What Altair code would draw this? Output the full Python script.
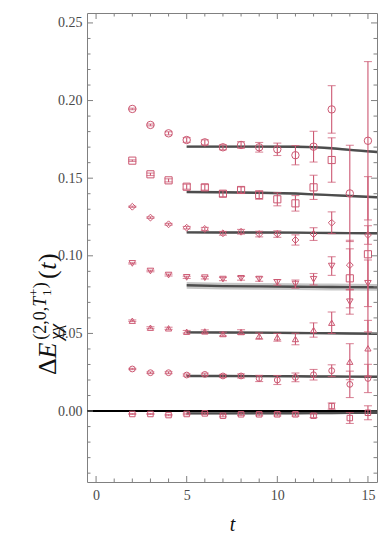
import altair as alt
import pandas as pd

# ---------------- data ----------------
T = [2, 3, 4, 5, 6, 7, 8, 9, 10, 11, 12, 13, 14, 15]

L0_VAL = [-0.0019, -0.0019, -0.0026, -0.0019, -0.0015, -0.0030, -0.0021, -0.0021, -0.0021, -0.0021, -0.0030, 0.0032, -0.0045, -0.0011]
L0_ERR = [0.0003, 0.0003, 0.0004, 0.0005, 0.0006, 0.0007, 0.0008, 0.0009, 0.0010, 0.0011, 0.0012, 0.0020, 0.0035, 0.0045]
L1_VAL = [0.0271, 0.0247, 0.0247, 0.0232, 0.0236, 0.0226, 0.0226, 0.0210, 0.0200, 0.0217, 0.0234, 0.0260, 0.0172, 0.0210]
L1_ERR = [0.0004, 0.0005, 0.0006, 0.0007, 0.0008, 0.0010, 0.0013, 0.0020, 0.0029, 0.0028, 0.0034, 0.0038, 0.0085, 0.0091]
L2_VAL = [0.0582, 0.0537, 0.0533, 0.0511, 0.0513, 0.0496, 0.0509, 0.0483, 0.0475, 0.0464, 0.0522, 0.0569, 0.0318, 0.0404]
L2_ERR = [0.0005, 0.0006, 0.0007, 0.0008, 0.0010, 0.0012, 0.0015, 0.0020, 0.0025, 0.0037, 0.0046, 0.0069, 0.0116, 0.0180]
L3_VAL = [0.0951, 0.0902, 0.0876, 0.0861, 0.0859, 0.0850, 0.0855, 0.0850, 0.0829, 0.0818, 0.0849, 0.0934, 0.0704, 0.0823]
L3_ERR = [0.0004, 0.0005, 0.0006, 0.0007, 0.0008, 0.0010, 0.0012, 0.0014, 0.0018, 0.0026, 0.0037, 0.0060, 0.0080, 0.0150]
L4_VAL = [0.1316, 0.1246, 0.1203, 0.1181, 0.1173, 0.1145, 0.1155, 0.1140, 0.1140, 0.1102, 0.1140, 0.1213, 0.0940, 0.1134]
L4_ERR = [0.0004, 0.0005, 0.0006, 0.0008, 0.0010, 0.0012, 0.0015, 0.0018, 0.0021, 0.0033, 0.0041, 0.0070, 0.0160, 0.0060]
L5_VAL = [0.1613, 0.1525, 0.1486, 0.1445, 0.1441, 0.1400, 0.1424, 0.1392, 0.1364, 0.1338, 0.1441, 0.1617, 0.0855, 0.1010]
L5_ERR = [0.0005, 0.0008, 0.0010, 0.0016, 0.0018, 0.0019, 0.0019, 0.0028, 0.0042, 0.0050, 0.0078, 0.0143, 0.0190, 0.0500]
L6_VAL = [0.1946, 0.1843, 0.1789, 0.1746, 0.1731, 0.1699, 0.1714, 0.1699, 0.1686, 0.1648, 0.1703, 0.1943, 0.1402, 0.1741]
L6_ERR = [0.0005, 0.0006, 0.0010, 0.0015, 0.0016, 0.0016, 0.0021, 0.0031, 0.0040, 0.0062, 0.0099, 0.0153, 0.0310, 0.0510]

LEVELS = ["n0", "n1", "n2", "n3", "n4", "n5", "n6"]
VALS = [L0_VAL, L1_VAL, L2_VAL, L3_VAL, L4_VAL, L5_VAL, L6_VAL]
ERRS = [L0_ERR, L1_ERR, L2_ERR, L3_ERR, L4_ERR, L5_ERR, L6_ERR]
SHAPES = ["square", "circle", "triangle-up", "triangle-down", "diamond", "square", "circle"]
SIZES = [30, 55, 32, 32, 28, 26, 20]

# fit curves (plateau fits) and their band half-widths
FIT_T = [5, 7, 9, 11, 12, 13, 14, 15.5]
FIT0 = [-0.0015, -0.0015, -0.0014, -0.0014, -0.0013, -0.0013, -0.0012, -0.0011]
FIT1 = [0.0226, 0.0226, 0.0225, 0.0224, 0.0223, 0.0223, 0.0222, 0.0221]
FIT2 = [0.0507, 0.0506, 0.0505, 0.0503, 0.0502, 0.0501, 0.0500, 0.0498]
FIT3 = [0.0810, 0.0805, 0.0803, 0.0801, 0.0800, 0.0799, 0.0798, 0.0797]
FIT4 = [0.1151, 0.1150, 0.1150, 0.1149, 0.1148, 0.1147, 0.1146, 0.1145]
FIT5 = [0.1411, 0.1409, 0.1406, 0.1401, 0.1396, 0.1391, 0.1385, 0.1377]
FIT6 = [0.1703, 0.1703, 0.1703, 0.1702, 0.1700, 0.1693, 0.1682, 0.1669]
FITS = [FIT0, FIT1, FIT2, FIT3, FIT4, FIT5, FIT6]
BAND = [0.0007, 0.0007, 0.0007, 0.0022, 0.0007, 0.0007, 0.0008]

ZERO = [0.0]

X_DOMAIN = [-0.5, 15.5]
Y_DOMAIN = [-0.0457, 0.2564]
X_LABELS = [0, 5, 10, 15]
Y_LABELS = [0.0, 0.05, 0.10, 0.15, 0.20, 0.25]
X_MINOR = [1, 2, 3, 4, 6, 7, 8, 9, 11, 12, 13, 14]
Y_MINOR = [-0.04, -0.03, -0.02, -0.01, 0.01, 0.02, 0.03, 0.04, 0.06, 0.07, 0.08, 0.09,
           0.11, 0.12, 0.13, 0.14, 0.16, 0.17, 0.18, 0.19, 0.21, 0.22, 0.23, 0.24]

# ---------------- styling ----------------
W, H = 290, 469
PINK = "#cc5872"
FITC = "#4d4d4d"
BANDC = "#bdbdbd"
FRAME = "#808080"
SERIF = "Liberation Serif"

rows, caps = [], []
for lev, vals, errs in zip(LEVELS, VALS, ERRS):
    for t, v, e in zip(T, vals, errs):
        rows.append({"level": lev, "t": t, "v": v, "lo": v - e, "hi": v + e})
        caps.append({"level": lev, "t": t, "c": v - e})
        caps.append({"level": lev, "t": t, "c": v + e})
pts = pd.DataFrame(rows)
caps = pd.DataFrame(caps)

fit_rows = []
for lev, fv, b in zip(LEVELS, FITS, BAND):
    for t, v in zip(FIT_T, fv):
        fit_rows.append({"level": lev, "t": t, "v": v, "lo": v - b, "hi": v + b})
fits = pd.DataFrame(fit_rows)

xs = alt.Scale(domain=X_DOMAIN, nice=False, zero=False)
ys = alt.Scale(domain=Y_DOMAIN, nice=False, zero=False)

x_axis = alt.Axis(values=X_LABELS, ticks=False, domain=False, grid=False,
                  labelFont=SERIF, labelFontSize=14, labelColor="#4a4a4a", labelPadding=6,
                  title="t", titleFont=SERIF, titleFontSize=20, titleFontStyle="italic",
                  titleFontWeight="normal", titleColor="#111", titlePadding=12)
y_axis = alt.Axis(values=Y_LABELS, format=".2f", ticks=False, domain=False, grid=False,
                  labelFont=SERIF, labelFontSize=14, labelColor="#4a4a4a", labelPadding=5,
                  title=None)

base_axes = alt.Chart(pd.DataFrame({"t": X_DOMAIN, "v": Y_DOMAIN})).mark_point(opacity=0).encode(
    x=alt.X("t:Q", scale=xs, axis=x_axis),
    y=alt.Y("v:Q", scale=ys, axis=y_axis),
)

band = alt.Chart(fits).mark_area(color=BANDC, opacity=0.85, clip=True).encode(
    x=alt.X("t:Q", scale=xs), y=alt.Y("lo:Q", scale=ys), y2="hi:Q", detail="level:N")
lines = alt.Chart(fits).mark_line(color=FITC, strokeWidth=2.4, clip=True).encode(
    x=alt.X("t:Q", scale=xs), y=alt.Y("v:Q", scale=ys), detail="level:N")
zero = alt.Chart(pd.DataFrame({"v": ZERO})).mark_rule(color="#000", strokeWidth=2).encode(
    y=alt.Y("v:Q", scale=ys))

ebar = alt.Chart(pts).mark_rule(color=PINK, strokeWidth=1.1, clip=True).encode(
    x=alt.X("t:Q", scale=xs), y=alt.Y("lo:Q", scale=ys), y2="hi:Q")
ecap = alt.Chart(caps).mark_tick(color=PINK, orient="horizontal", size=8, thickness=1.1, clip=True).encode(
    x=alt.X("t:Q", scale=xs), y=alt.Y("c:Q", scale=ys))
points = alt.Chart(pts).mark_point(filled=False, color=PINK, strokeWidth=1.0, opacity=1, clip=True).encode(
    x=alt.X("t:Q", scale=xs), y=alt.Y("v:Q", scale=ys),
    shape=alt.Shape("level:N", scale=alt.Scale(domain=LEVELS, range=SHAPES), legend=None),
    size=alt.Size("level:N", scale=alt.Scale(domain=LEVELS, range=SIZES), legend=None),
)

# inward ticks on all four sides
def yticks(values, length):
    d = pd.DataFrame({"v": values})
    left = alt.Chart(d).mark_rule(color=FRAME, strokeWidth=1).encode(
        y=alt.Y("v:Q", scale=ys), x=alt.value(0), x2=alt.value(length))
    right = alt.Chart(d).mark_rule(color=FRAME, strokeWidth=1).encode(
        y=alt.Y("v:Q", scale=ys), x=alt.value(W - length), x2=alt.value(W))
    return [left, right]

def xticks(values, length):
    d = pd.DataFrame({"t": values})
    bot = alt.Chart(d).mark_rule(color=FRAME, strokeWidth=1).encode(
        x=alt.X("t:Q", scale=xs), y=alt.value(H - length), y2=alt.value(H))
    top = alt.Chart(d).mark_rule(color=FRAME, strokeWidth=1).encode(
        x=alt.X("t:Q", scale=xs), y=alt.value(0), y2=alt.value(length))
    return [bot, top]

tick_layers = yticks(Y_LABELS, 6) + yticks(Y_MINOR, 3.5) + xticks(X_LABELS, 6) + xticks(X_MINOR, 3.5)

# y-axis title composed of pieces (rotated, reading upwards)
one = pd.DataFrame({"a": [0]})
XB = -31
B = 362
S, SS, SSS = 26, 18, 13
SUP = -10

def piece(text, y, dx, size, style="normal"):
    return alt.Chart(one).mark_text(text=text, angle=270, align="left", baseline="alphabetic",
                                    font=SERIF, fontSize=size, fontStyle=style, color="#111").encode(
        x=alt.value(XB + dx), y=alt.value(y))

title_layers = [
    piece("Δ", B, 0, S),
    piece("E", B - 16.4, 0, S, "italic"),
    piece("(2,0,", B - 35.3, SUP, SS),
    piece("T", B - 68.3, SUP, SS, "italic"),
    piece("1", B - 79, SUP + 5, SSS),
    piece("+", B - 79, SUP - 8, SSS),
    piece(")", B - 86.8, SUP, SS),
    piece("χχ", B - 35.3, 6, SS, "italic"),
    piece("(", B - 96, 0, S),
    piece("t", B - 105.2, 0, S, "italic"),
    piece(")", B - 113, 0, S),
]

chart = alt.layer(
    base_axes, band, lines, zero, ebar, ecap, points, *tick_layers, *title_layers
).properties(
    width=W, height=H,
    autosize=alt.AutoSizeParams(type="none"),
    padding={"left": 79, "top": 5, "right": 5, "bottom": 52},
).configure_view(stroke=FRAME, strokeWidth=1)

chart.save("out.html", embed_options={"renderer": "svg", "actions": False})
